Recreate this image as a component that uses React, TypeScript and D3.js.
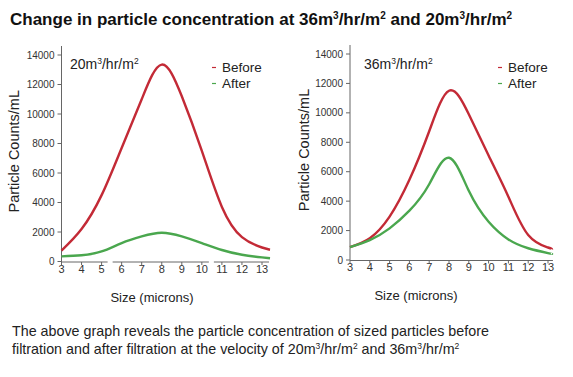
import React from "react";
import * as d3 from "d3";

// ---------- data ----------
const captionLine1 = "The above graph reveals the particle concentration of sized particles before";
const captionLine2Parts = ["filtration and after filtration at the velocity of 20m", "3", "/hr/m", "2", " and 36m", "3", "/hr/m", "2"];

const xTicks = [3, 4, 5, 6, 7, 8, 9, 10, 11, 12, 13];
const yTicks = [0, 2000, 4000, 6000, 8000, 10000, 12000, 14000];

const leftSizes = [3, 4, 5, 6, 7, 8, 9, 10, 11, 12, 13, 13.4];
const leftBefore = [740, 2200, 4500, 7700, 11000, 13350, 11200, 7500, 3700, 1650, 950, 800];
const leftAfter = [350, 420, 680, 1250, 1700, 1950, 1700, 1250, 780, 460, 280, 220];
const leftAxisBreaks = [[5.3, 5.55], [10.35, 10.6]];

const rightSizes = [3, 4, 5, 6, 7, 8, 9, 10, 11, 12, 13, 13.2];
const rightBefore = [880, 1480, 2950, 5450, 8750, 11500, 9900, 7100, 4300, 1700, 850, 720];
const rightAfter = [880, 1350, 2150, 3350, 5150, 6950, 4700, 2600, 1400, 800, 470, 420];

const legendLabels = ["Before", "After"];
const RED = "#c32a36";
const GREEN = "#4aa74e";
const SANS = "'Liberation Sans', Arial, Helvetica, sans-serif";
const NARROW = "'Liberation Sans Narrow', 'Arial Narrow', 'Liberation Sans', sans-serif";

type PanelProps = {
  x0: number; x1: number; yBottom: number; yTop: number;
  sizes: number[]; before: number[]; after: number[];
  flow: string; breaks: number[][]; xMax: number; legendX: number; subX: number; ylabelX: number; sizeLabelX: number;
};

function Panel(p: PanelProps) {
  const x = d3.scaleLinear().domain([3, 13]).range([p.x0, p.x1]);
  const y = d3.scaleLinear().domain([0, 14000]).range([p.yBottom, p.yTop]);
  const line = d3.line<[number, number]>().x(d => x(d[0])).y(d => y(d[1])).curve(d3.curveNatural);
  const bData = p.sizes.map((s, i) => [s, p.before[i]] as [number, number]);
  const aData = p.sizes.map((s, i) => [s, p.after[i]] as [number, number]);
  const axisX = x(3);
  const bounds = [3, ...p.breaks.flat(), p.xMax];
  const segs: number[][] = [];
  for (let i = 0; i < bounds.length; i += 2) segs.push([bounds[i], bounds[i + 1]]);
  const axisY = p.yBottom + 0.5;
  return (
    <g>
      <line x1={axisX} x2={axisX} y1={p.yTop - 9} y2={axisY} stroke="#666" strokeWidth={1} />
      {yTicks.map(t => (
        <g key={t}>
          <line x1={axisX - 4} x2={axisX} y1={y(t)} y2={y(t)} stroke="#666" strokeWidth={1} />
          <text x={axisX - 7} y={y(t) + 3.5} textAnchor="end" fontSize={10} fontFamily={NARROW} fill="#333">{t}</text>
        </g>
      ))}
      {segs.map((s, i) => (
        <line key={i} x1={x(s[0])} x2={x(s[1])} y1={axisY} y2={axisY} stroke="#666" strokeWidth={1} />
      ))}
      {xTicks.map(t => (
        <g key={t}>
          <line x1={x(t)} x2={x(t)} y1={axisY} y2={axisY + 3} stroke="#666" strokeWidth={1} />
          <text x={x(t)} y={axisY + 10.5} textAnchor="middle" fontSize={11} fontFamily={SANS} fill="#333">{t}</text>
        </g>
      ))}
      <path d={line(bData) || ""} fill="none" stroke={RED} strokeWidth={2.4} />
      <path d={line(aData) || ""} fill="none" stroke={GREEN} strokeWidth={2.4} />
      <text x={p.sizeLabelX} y={p.yBottom + 40} textAnchor="middle" fontSize={13} fontFamily={SANS} fill="#222">Size (microns)</text>
      <text transform={`translate(${p.ylabelX},${(p.yTop + p.yBottom) / 2 - 7}) rotate(-90)`} textAnchor="middle" fontSize={14.5} fontFamily={SANS} fill="#222">Particle Counts/mL</text>
      <text x={p.subX} y={69} fontSize={14} fontFamily={SANS} fill="#222">
        {p.flow}m<tspan dy={-5} fontSize={8.5}>3</tspan><tspan dy={5}>/hr/m</tspan><tspan dy={-5} fontSize={8.5}>2</tspan>
      </text>
      {legendLabels.map((l, i) => (
        <g key={l}>
          <line x1={p.legendX - 10} x2={p.legendX - 6} y1={67.5 + i * 16} y2={67.5 + i * 16} stroke={i === 0 ? RED : GREEN} strokeWidth={1.2} />
          <text x={p.legendX} y={72 + i * 16} fontSize={13.5} fontFamily={SANS} fill="#222">{l}</text>
        </g>
      ))}
    </g>
  );
}

export default function App() {
  return (
    <svg width={573} height={377} style={{ position: "absolute", left: 0, top: 0, background: "#fff" }}>
      <rect width={573} height={377} fill="#fff" />
      <text x={10} y={25} fontSize={17} fontWeight="bold" fontFamily={SANS} fill="#111">
        Change in particle concentration at 36m<tspan dy={-6} fontSize={10}>3</tspan><tspan dy={6}>/hr/m</tspan><tspan dy={-6} fontSize={10}>2</tspan><tspan dy={6}> and 20m</tspan><tspan dy={-6} fontSize={10}>3</tspan><tspan dy={6}>/hr/m</tspan><tspan dy={-6} fontSize={10}>2</tspan>
      </text>
      <Panel x0={61.5} x1={262} yBottom={261.5} yTop={55} sizes={leftSizes} before={leftBefore} after={leftAfter}
        flow="20" breaks={leftAxisBreaks} xMax={13.35} legendX={222} subX={70} ylabelX={19} sizeLabelX={152} />
      <Panel x0={350} x1={548} yBottom={260} yTop={54} sizes={rightSizes} before={rightBefore} after={rightAfter}
        flow="36" breaks={[]} xMax={13.25} legendX={508} subX={364} ylabelX={309} sizeLabelX={416} />
      <text x={12} y={336} fontSize={14.3} fontFamily={SANS} fill="#222">{captionLine1}</text>
      <text x={12} y={354} fontSize={14.3} fontFamily={SANS} fill="#222">
        {captionLine2Parts.map((s, i) => i % 2 === 1
          ? <tspan key={i} dy={-5} fontSize={8.5}>{s}</tspan>
          : <tspan key={i} dy={i === 0 ? 0 : 5}>{s}</tspan>)}
      </text>
    </svg>
  );
}
